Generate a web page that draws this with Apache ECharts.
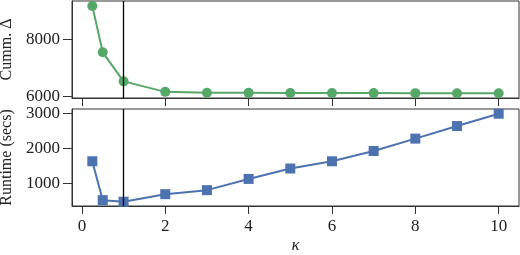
<!DOCTYPE html>
<html>
<head>
<meta charset="utf-8">
<script src="https://cdn.jsdelivr.net/npm/echarts@6/dist/echarts.min.js"></script>
<style>
  html, body { margin: 0; padding: 0; background: #fff; }
  #chart { width: 520px; height: 255px; }
</style>
</head>
<body>
<div id="chart"></div>
<script>
const kappa = [0.25, 0.5, 1, 2, 3, 4, 5, 6, 7, 8, 9, 10];
const cummDelta = [9155, 7540, 6528, 6162, 6130, 6127, 6124, 6121, 6119, 6117, 6116, 6115];
const runtime = [1637, 523, 478, 694, 809, 1131, 1429, 1637, 1931, 2286, 2646, 3000];
const xTicks = [0, 2, 4, 6, 8, 10];
const topTicks = [6000, 8000];
const bottomTicks = [1000, 2000, 3000];
const chosenKappa = 1;

const font = "'Liberation Serif', serif";
const frame = "#333";
const green = "#55a868";
const blue = "#4c72b0";

const chart = echarts.init(document.getElementById("chart"));

const pairs = (ys) => kappa.map((k, i) => [k, ys[i]]);
const plain = (v) => String(v);

const xAxisBase = {
  type: "value",
  min: -0.2375,
  max: 10.4875,
  splitLine: { show: false },
  axisLine: { show: true, onZero: false, lineStyle: { color: frame, width: 1 } },
  axisTick: { show: true, length: 8, customValues: xTicks, lineStyle: { color: frame, width: 1 } },
};

const yAxisBase = {
  type: "value",
  splitLine: { show: false },
  nameLocation: "middle",
  nameRotate: 90,
  nameTextStyle: { fontFamily: font, fontSize: 16, color: "#222" },
  axisLine: { show: true, onZero: false, lineStyle: { color: frame, width: 1 } },
  axisLabel: { fontFamily: font, fontSize: 17, color: "#222", margin: 12, formatter: plain },
};

const vline = {
  silent: true,
  symbol: "none",
  label: { show: false },
  lineStyle: { color: "#000", width: 1.3, type: "solid" },
  data: [{ xAxis: chosenKappa }],
};

chart.setOption({
  animation: false,
  backgroundColor: "#fff",
  grid: [
    { left: 72, right: 1, top: 1, height: 97, show: true, borderColor: frame, borderWidth: 1, outerBoundsMode: "none" },
    { left: 72, right: 1, top: 109, height: 97, show: true, borderColor: frame, borderWidth: 1, outerBoundsMode: "none" },
  ],
  xAxis: [
    { ...xAxisBase, gridIndex: 0, axisLabel: { show: false } },
    {
      ...xAxisBase,
      gridIndex: 1,
      name: "κ",
      nameLocation: "middle",
      nameGap: 31,
      nameTextStyle: { fontFamily: font, fontSize: 17, fontStyle: "italic", color: "#222" },
      axisLabel: { customValues: xTicks, fontFamily: font, fontSize: 17, color: "#222", margin: 12, formatter: plain },
    },
  ],
  yAxis: [
    {
      ...yAxisBase,
      gridIndex: 0,
      min: 5948,
      max: 9328,
      name: "Cumm. Δ",
      nameGap: 54,
      axisTick: { show: true, length: 9, customValues: topTicks, lineStyle: { color: frame } },
      axisLabel: { ...yAxisBase.axisLabel, customValues: topTicks },
    },
    {
      ...yAxisBase,
      gridIndex: 1,
      min: 355,
      max: 3135,
      name: "Runtime (secs)",
      nameGap: 54,
      axisTick: { show: true, length: 9, customValues: bottomTicks, lineStyle: { color: frame } },
      axisLabel: { ...yAxisBase.axisLabel, customValues: bottomTicks },
    },
  ],
  series: [
    {
      type: "line",
      xAxisIndex: 0,
      yAxisIndex: 0,
      data: pairs(cummDelta),
      symbol: "circle",
      symbolSize: 10,
      lineStyle: { color: green, width: 2 },
      itemStyle: { color: green },
      markLine: vline,
    },
    {
      type: "line",
      xAxisIndex: 1,
      yAxisIndex: 1,
      data: pairs(runtime),
      symbol: "rect",
      symbolSize: 10,
      lineStyle: { color: blue, width: 2 },
      itemStyle: { color: blue },
      markLine: vline,
    },
  ],
});
</script>
</body>
</html>
